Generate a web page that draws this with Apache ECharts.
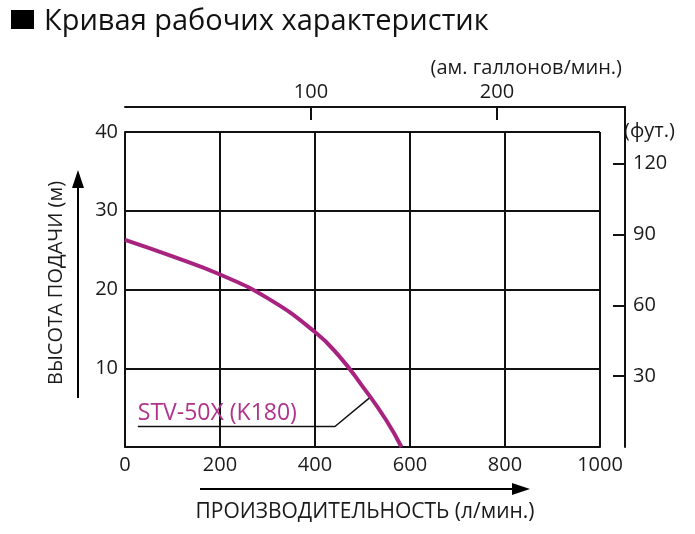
<!DOCTYPE html>
<html>
<head>
<meta charset="utf-8">
<script src="https://cdn.jsdelivr.net/npm/echarts@6/dist/echarts.min.js"></script>
<style>
html,body{margin:0;padding:0;background:#fff;}
#chart{width:695px;height:534px;}
</style>
</head>
<body>
<div id="chart"></div>
<script>
// Flow (L/min) vs head (m)
const flowLpm = [0, 100, 200, 300, 400, 450, 500, 550, 582];
const headM   = [26.3, 24.2, 21.9, 18.9, 14.6, 11.6, 7.7, 3.4, 0];
// callout leader (data coordinates)
const calloutX = [27, 442, 516];
const calloutY = [2.6, 2.6, 6.3];
const seriesName = 'STV-50X (K180)';
const xTicks = [0, 200, 400, 600, 800, 1000];
const yTicks = [10, 20, 30, 40];
const galTicks = [100, 200];
const ftTicks = [30, 60, 90, 120];

const FONT = '"Open Sans", "Noto Sans", sans-serif';
const chart = echarts.init(document.getElementById('chart'));
const black = '#111';
const plain = v => String(v);

chart.setOption({
  animation: false,
  backgroundColor: '#fff',
  textStyle: { fontFamily: FONT },
  grid: [
    { left: 125, right: 95, top: 132, bottom: 87 },
    { left: 125, right: 70, top: 107, bottom: 87 }
  ],
  xAxis: [
    {
      gridIndex: 0, type: 'value', position: 'bottom',
      min: 0, max: 1000, interval: 200,
      axisLine: { show: true, lineStyle: { color: black, width: 2 } },
      axisTick: { show: false },
      axisLabel: { color: '#1a1a1a', fontSize: 20, margin: 8, fontFamily: FONT,
        customValues: xTicks, formatter: plain },
      splitLine: { show: true, lineStyle: { color: black, width: 2 } }
    },
    {
      gridIndex: 1, type: 'value', position: 'top',
      min: 0, max: 268.8,
      axisLine: { show: true, onZero: false, lineStyle: { color: black, width: 2 } },
      axisTick: { show: true, inside: true, length: 13, lineStyle: { color: black, width: 2 },
        customValues: galTicks },
      axisLabel: { color: '#1a1a1a', fontSize: 20, margin: 5, fontFamily: FONT,
        customValues: galTicks, formatter: plain },
      splitLine: { show: false }
    }
  ],
  yAxis: [
    {
      gridIndex: 0, type: 'value', position: 'left',
      min: 0, max: 40, interval: 10,
      axisLine: { show: true, lineStyle: { color: black, width: 2 } },
      axisTick: { show: false },
      axisLabel: { color: '#1a1a1a', fontSize: 20, margin: 7, fontFamily: FONT,
        customValues: yTicks, formatter: plain },
      splitLine: { show: true, lineStyle: { color: black, width: 2 } }
    },
    {
      gridIndex: 1, type: 'value', position: 'right',
      min: 0, max: 144,
      axisLine: { show: true, onZero: false, lineStyle: { color: black, width: 2 } },
      axisTick: { show: true, inside: true, length: 12, lineStyle: { color: black, width: 2 },
        customValues: ftTicks },
      axisLabel: { color: '#1a1a1a', fontSize: 20, margin: 8, fontFamily: FONT,
        customValues: ftTicks, formatter: plain },
      splitLine: { show: false }
    }
  ],
  series: [
    {
      type: 'line', name: seriesName, xAxisIndex: 0, yAxisIndex: 0,
      smooth: 0.5, showSymbol: false, symbol: 'none',
      lineStyle: { color: '#A8237F', width: 4 },
      data: flowLpm.map((x, i) => [x, headM[i]]),
      z: 5
    },
    {
      type: 'line', xAxisIndex: 0, yAxisIndex: 0,
      showSymbol: true, symbol: 'circle', symbolSize: 0,
      lineStyle: { color: black, width: 1.5 },
      itemStyle: { color: black },
      data: calloutX.map((x, i) => {
        const d = { value: [x, calloutY[i]] };
        if (i === 0) {
          d.label = { show: true, formatter: seriesName, position: 'top', align: 'left',
            distance: 2, color: '#B0338C', fontSize: 23, fontFamily: FONT };
        }
        return d;
      }),
      z: 4
    }
  ],
  graphic: [
    { type: 'rect', shape: { x: 11, y: 10, width: 23, height: 19 }, style: { fill: '#000' } },
    { type: 'text', x: 44, y: 22, style: { text: 'Кривая рабочих характеристик', fill: '#111',
        font: '29px ' + FONT, verticalAlign: 'middle', align: 'left' } },
    { type: 'text', x: 622, y: 68, style: { text: '(ам. галлонов/мин.)', fill: '#1a1a1a',
        font: '20px ' + FONT, verticalAlign: 'middle', align: 'right' } },
    { type: 'text', x: 624, y: 131, style: { text: '(фут.)', fill: '#1a1a1a',
        font: '20px ' + FONT, verticalAlign: 'middle', align: 'left' } },
    { type: 'text', x: 365, y: 512, style: { text: 'ПРОИЗВОДИТЕЛЬНОСТЬ (л/мин.)', fill: '#1a1a1a',
        font: '21px ' + FONT, verticalAlign: 'middle', align: 'center' } },
    { type: 'text', x: 56, y: 283, rotation: Math.PI / 2, style: { text: 'ВЫСОТА ПОДАЧИ (м)', fill: '#1a1a1a',
        font: '20px ' + FONT, verticalAlign: 'middle', align: 'center' } },
    // arrows
    { type: 'line', shape: { x1: 200, y1: 489, x2: 515, y2: 489 }, style: { stroke: '#000', lineWidth: 2 } },
    { type: 'polygon', shape: { points: [[530, 489], [512, 483], [512, 495]] }, style: { fill: '#000' } },
    { type: 'line', shape: { x1: 78, y1: 398, x2: 78, y2: 185 }, style: { stroke: '#000', lineWidth: 2 } },
    { type: 'polygon', shape: { points: [[78, 170], [72, 188], [84, 188]] }, style: { fill: '#000' } }
  ]
});
</script>
</body>
</html>
